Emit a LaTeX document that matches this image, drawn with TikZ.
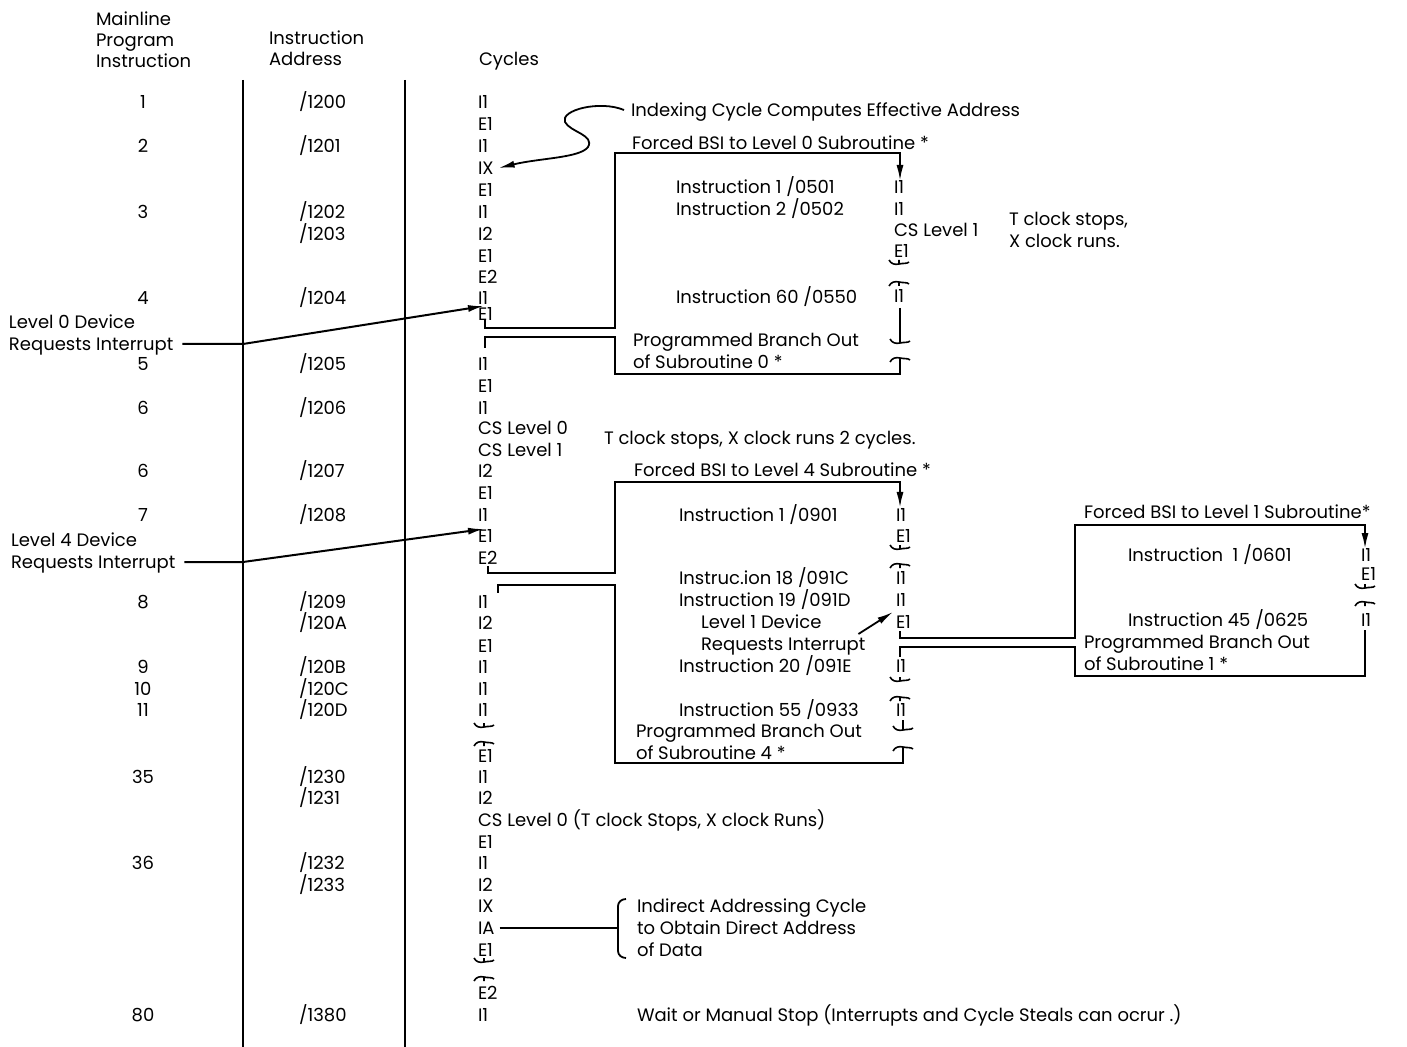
\documentclass[tikz,border=0pt]{standalone}
\usepackage{fontspec}
\setmainfont{Poppins}
\usetikzlibrary{arrows.meta}

\tikzset{
  lbl/.style={anchor=west},
  brkline/.style={line width=0.8pt}
}
% break marks in a cycle column
\newcommand{\brkup}[2]{\draw[brkline,shift={(#1,#2)}] (0,-4) -- (0,0) (-10,-4) .. controls (-8,0) and (-4,1) .. (0,0) .. controls (4,-1) and (8,0) .. (10,-2);}
\newcommand{\brkdn}[2]{\draw[brkline,shift={(#1,#2)}] (0,4) -- (0,0) (-10,4) .. controls (-8,0) and (-4,-1) .. (0,0) .. controls (4,1) and (8,0) .. (10,2);}

\begin{document}
\begin{tikzpicture}[x=0.5pt,y=-0.5pt,line width=1pt,>={Latex[length=8pt,width=3.5pt]},
  every node/.style={inner sep=0pt,text height=6.5pt,text depth=0pt,font=\fontsize{9}{11}\selectfont}]
  \useasboundingbox (0,0) rectangle (1407,1047);
  % column heads
  \node[lbl] (hmain1) at (95,19) {Mainline};
  \node[lbl] (hmain2) at (95,40) {Program};
  \node[lbl] (hmain3) at (95,61) {Instruction};
  \node[lbl] (hadr1) at (268,38) {Instruction};
  \node[lbl] (hadr2) at (268,59) {Address};
  \node[lbl] (hcyc) at (478,59) {Cycles};
  % column rules
  \draw (243,80) -- (243,1047);
  \draw (405,80) -- (405,1047);
  % mainline instructions and addresses
  \foreach \y/\n in {102/1,146/2,212/3,298/4,364/5,408/6,471/6,515/7,602/8,667/9,689/10,710/11,777/35,863/36,1015/80}
    \node (num\y) at (143,\y) {\n};
  \foreach \y/\a in {102/1200,146/1201,212/1202,234/1203,298/1204,364/1205,408/1206,471/1207,515/1208,602/1209,623/120A,667/120B,689/120C,710/120D,777/1230,798/1231,863/1232,885/1233,1015/1380}
    \node[lbl] (adr\y) at (298,\y) {/\a};
  % mainline cycles
  \foreach \y/\c in {102/I1,124/E1,146/I1,168/IX,190/E1,212/I1,234/I2,256/E1,277/E2,298/I1,314/E1,364/I1,386/E1,408/I1,428/CS Level 0,450/CS Level 1,471/I2,493/E1,515/I1,536/E1,558/E2,602/I1,623/I2,646/E1,667/I1,689/I1,710/I1,756/E1,777/I1,798/I2,820/{CS Level 0 (T clock Stops, X clock Runs)},842/E1,863/I1,885/I2,906/IX,928/IA,950/E1,993/E2,1015/I1}
    \node[lbl] (cyc\y) at (477,\y) {\c};
  \brkup{484}{727} \brkdn{484}{742}
  \brkup{484}{962} \brkdn{484}{977}
  \node[lbl] (tclk) at (603,438) {T clock stops, X clock runs 2 cycles.};
  % indexing note
  \node[lbl] (idx) at (630,110) {Indexing Cycle Computes Effective Address};
  \draw[->,line width=0.9pt] ([xshift=-3]idx.west) .. controls (600,100) and (560,110) .. (565,122)
    .. controls (570,132) and (595,135) .. (588,147) .. controls (580,158) and (540,158) .. ([xshift=2]cyc168.east);
  % interrupt requests
  \node[lbl] (dev0) at (8,322) {Level 0 Device};
  \node[lbl] (req0) at (8,344) {Requests Interrupt};
  \coordinate (in0) at (484,306);
  \draw[->] ([xshift=4]req0.east) -- (243,344) -- (in0);
  \node[lbl] (dev4) at (10,540) {Level 4 Device};
  \node[lbl] (req4) at (10,562) {Requests Interrupt};
  \coordinate (in4) at (484,529);
  \draw[->] ([xshift=4]req4.east) -- (243,562) -- (in4);
  % level 0 subroutine
  \node[lbl] (bsi0) at (631,143) {Forced BSI to Level 0 Subroutine *};
  \draw[->] (485,320) |- (615,328) -- (615,153) -- (900,153) -- (900,181);
  \foreach \y/\t in {187/{Instruction 1 /0501},209/{Instruction 2 /0502},297/{Instruction 60 /0550}}
    \node[lbl] (s0i\y) at (675,\y) {\t};
  \foreach \y/\c in {187/I1,209/I1,230/CS Level 1,251/E1,296/I1}
    \node[lbl] (s0c\y) at (893,\y) {\c};
  \brkup{899}{264} \brkdn{899}{282}
  \node[lbl] (clk0a) at (1008,219) {T clock stops,};
  \node[lbl] (clk0b) at (1008,241) {X clock runs.};
  \node[lbl] (out0a) at (632,340) {Programmed Branch Out};
  \node[lbl] (out0b) at (632,362) {of Subroutine 0 *};
  \draw (900,308) -- (900,343);
  \brkup{900}{343} \brkdn{900}{358}
  \draw (900,358) -- (900,374) -- (615,374) -- (615,337) -- (485,337) -- (485,348);
  % level 4 subroutine
  \node[lbl] (bsi4) at (633,470) {Forced BSI to Level 4 Subroutine *};
  \draw[->] (488,566) |- (615,573) -- (615,482) -- (900,482) -- (900,508);
  \foreach \y/\t in {515/{Instruction 1 /0901},578/{Instruc.ion 18 /091C},600/{Instruction 19 /091D},666/{Instruction 20 /091E},710/{Instruction 55 /0933}}
    \node[lbl] (s4i\y) at (678,\y) {\t};
  \foreach \y/\c in {515/I1,536/E1,578/I1,600/I1,622/E1,666/I1,710/I1}
    \node[lbl] (s4c\y) at (895,\y) {\c};
  \brkup{900}{549} \brkdn{900}{564}
  \brkup{900}{681} \brkdn{900}{697}
  \node[lbl] (dev1) at (700,622) {Level 1 Device};
  \node[lbl] (req1) at (700,644) {Requests Interrupt};
  \coordinate (in1) at (893,612);
  \draw[->,line width=0.9pt] ([xshift=-4,yshift=5]req1.east) -- (in1);
  \node[lbl] (out4a) at (635,731) {Programmed Branch Out};
  \node[lbl] (out4b) at (635,753) {of Subroutine 4 *};
  \draw (903,720) -- (903,730);
  \brkup{903}{730} \brkdn{903}{747}
  \draw (903,747) -- (903,763) -- (615,763) -- (615,585) -- (498,585) -- (498,593);
  % level 1 subroutine
  \node[lbl] (bsi1) at (1083,512) {Forced BSI to Level 1 Subroutine*};
  \draw[->] (900,631) |- (1075,638) -- (1075,525) -- (1365,525) -- (1365,549);
  \node[lbl] (s1i555) at (1127,555) {Instruction~~1 /0601};
  \node[lbl] (s1i620) at (1127,620) {Instruction 45 /0625};
  \foreach \y/\c in {555/I1,574/E1,620/I1}
    \node[lbl] (s1c\y) at (1360,\y) {\c};
  \brkup{1365}{588} \brkdn{1365}{602}
  \node[lbl] (out1a) at (1083,642) {Programmed Branch Out};
  \node[lbl] (out1b) at (1083,664) {of Subroutine 1 *};
  \draw (1365,630) -- (1365,676) -- (1075,676) -- (1075,647) -- (900,647) -- (900,657);
  % indirect addressing note
  \coordinate (brk) at (618,928);
  \draw[line width=0.9pt] ([xshift=2]cyc928.east) -- (brk);
  \draw[line width=0.9pt] (626,899) to[out=180,in=90] (618,906) -- (618,951) to[out=-90,in=180] (626,958);
  \node[lbl] (ind1) at (636,906) {Indirect Addressing Cycle};
  \node[lbl] (ind2) at (636,928) {to Obtain Direct Address};
  \node[lbl] (ind3) at (636,950) {of Data};
  % wait
  \node[lbl] (wait) at (636,1015) {Wait or Manual Stop (Interrupts and Cycle Steals can ocrur .)};
\end{tikzpicture}
\end{document}
